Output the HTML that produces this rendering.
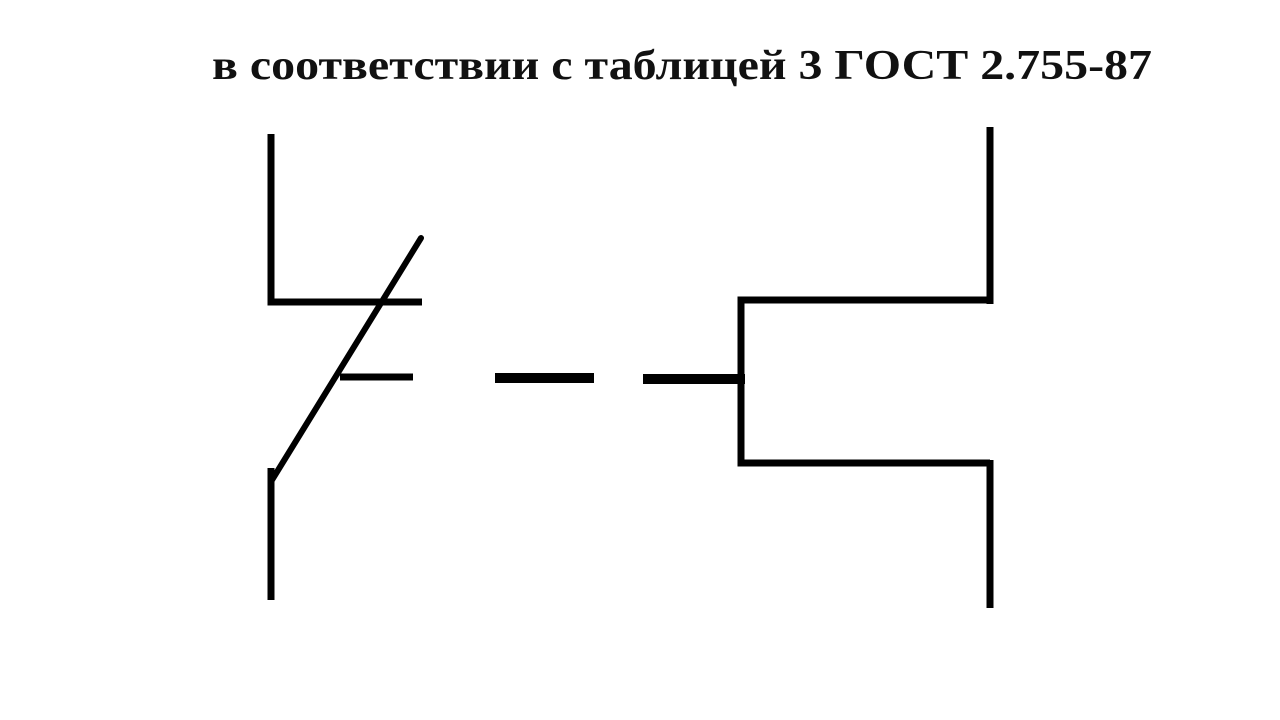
<!DOCTYPE html>
<html><head><meta charset="utf-8"><style>html,body{margin:0;padding:0;background:#fff;width:1280px;height:720px;overflow:hidden}</style></head>
<body>
<svg width="1280" height="720" viewBox="0 0 1280 720" xmlns="http://www.w3.org/2000/svg">
<rect width="1280" height="720" fill="#fff"/>
<text x="212" y="79" font-family="'Liberation Serif','Noto Serif CJK SC',serif" font-weight="bold" font-size="42" fill="#111" textLength="940" lengthAdjust="spacingAndGlyphs">в соответствии с таблицей 3 ГОСТ 2.755-87</text>
<g stroke="#000" fill="none" stroke-linecap="butt">
<polyline points="271,134 271,302 422,302" stroke-width="7"/>
<line x1="421" y1="238" x2="272" y2="480" stroke-width="6" stroke-linecap="round"/>
<line x1="340" y1="377" x2="413" y2="377" stroke-width="7"/>
<line x1="271" y1="468" x2="271" y2="600" stroke-width="7"/>
<line x1="495" y1="378" x2="594" y2="378" stroke-width="10"/>
<line x1="643" y1="379" x2="745" y2="379" stroke-width="10"/>
<polyline points="990,300 741,300 741,463 990,463" stroke-width="7"/>
<line x1="990" y1="127" x2="990" y2="304" stroke-width="7"/>
<line x1="990" y1="460" x2="990" y2="608" stroke-width="7"/>
</g>
</svg>
</body></html>
